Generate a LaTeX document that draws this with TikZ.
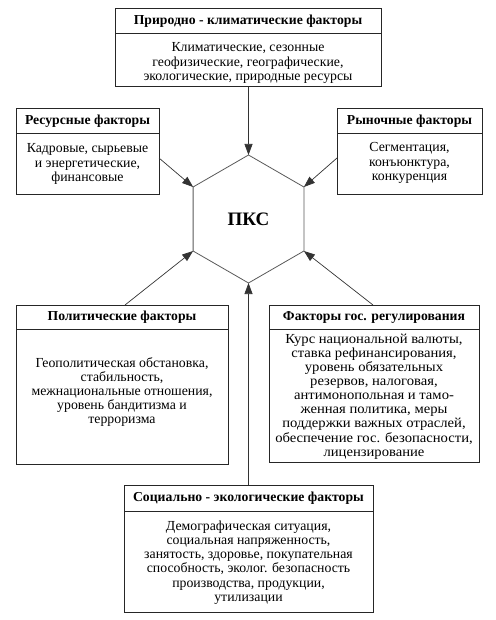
\documentclass[tikz,border=0pt]{standalone}
\usepackage{fontspec}
\setmainfont{Liberation Serif}
\newfontfamily\govfont[FakeStretch=1.06]{Liberation Serif}
\usetikzlibrary{arrows.meta}
\begin{document}
\begin{tikzpicture}[x=1pt,y=-1pt,
  frame/.style={draw=black!85, line width=1pt, inner sep=0pt, outer sep=0pt},
  ttl/.style={font=\fontsize{13.7}{14}\selectfont\bfseries, inner sep=0pt},
  bdy/.style={font=\fontsize{13.8}{14.2}\selectfont, align=center, inner sep=0pt},
  conn/.style={draw=black!80, line width=0.7pt, -{Triangle[length=11pt,width=8pt]}},
  hexline/.style={draw=black!65, line width=0.8pt},
  divider/.style={draw=black!85, line width=0.9pt}]
\useasboundingbox (0,0) rectangle (495,620);

% hexagon
\coordinate (hT) at (248.5,155);
\coordinate (hUR) at (303.9,187);
\coordinate (hLR) at (303.9,251);
\coordinate (hB) at (248.5,283);
\coordinate (hLL) at (193.1,251);
\coordinate (hUL) at (193.1,187);
\draw[hexline] (hT) -- (hUR) -- (hLR) -- (hB) -- (hLL) -- (hUL) -- cycle;
\node[font=\fontsize{19}{21}\selectfont\bfseries] (pks) at (248.5,219) {ПКС};

% top box
\node[frame, minimum width=266, minimum height=78] (top) at (248,48) {};
\draw[divider] (top.west |- 0,33) -- (top.east |- 0,33);
\node[ttl] (topT) at (248,21) {Природно - климатические факторы};
\node[bdy] (topB) at (248,63) {Климатические, сезонные\\геофизические, географические,\\экологические, природные ресурсы};

% resource box
\node[frame, minimum width=143, minimum height=86] (res) at (87.5,152) {};
\draw[divider] (res.west |- 0,133) -- (res.east |- 0,133);
\node[ttl] (resT) at (87.5,121) {Ресурсные факторы};
\node[bdy] (resB) at (87.5,164) {Кадровые, сырьевые\\и энергетические,\\финансовые};

% market box
\node[frame, minimum width=145, minimum height=86] (mkt) at (409.5,152) {};
\draw[divider] (mkt.west |- 0,133) -- (mkt.east |- 0,133);
\node[ttl] (mktT) at (409.5,121) {Рыночные факторы};
\node[bdy] (mktB) at (409.5,163) {Сегментация,\\конъюнктура,\\конкуренция};

% political box
\node[frame, minimum width=212, minimum height=159] (pol) at (122,384.5) {};
\draw[divider] (pol.west |- 0,329) -- (pol.east |- 0,329);
\node[ttl] (polT) at (122,317) {Политические факторы};
\node[bdy] (polB) at (122,392) {Геополитическая обстановка,\\стабильность,\\межнациональные отношения,\\уровень бандитизма и\\терроризма};

% government box
\node[frame, minimum width=210, minimum height=157] (gov) at (374,383.5) {};
\draw[divider] (gov.west |- 0,329) -- (gov.east |- 0,329);
\node[ttl] (govT) at (374,317) {Факторы гос. регулирования};
\node[bdy, font=\fontsize{13.8}{14.1}\govfont] (govB) at (374,396.5) {Курс национальной валюты,\\ставка рефинансирования,\\уровень обязательных\\резервов, налоговая,\\антимонопольная и тамо-\\женная политика, меры\\поддержки важных отраслей,\\обеспечение гос. безопасности,\\лицензирование};

% social box
\node[frame, minimum width=249, minimum height=127] (soc) at (248.5,548.5) {};
\draw[divider] (soc.west |- 0,511) -- (soc.east |- 0,511);
\node[ttl] (socT) at (248.5,498) {Социально - экологические факторы};
\node[bdy] (socB) at (248.5,562.5) {Демографическая ситуация,\\социальная напряженность,\\занятость, здоровье, покупательная\\способность, эколог. безопасность\\производства, продукции,\\утилизации};

% connectors
\draw[conn] (top.south -| hT) -- (hT);
\draw[conn] (soc.north -| hB) -- (hB);
\draw[conn] (res.east |- 0,158) -- (hUL);
\draw[conn] (mkt.west |- 0,158) -- (hUR);
\draw[conn] (pol.north -| 125,0) -- (hLL);
\draw[conn] (gov.north -| 373,0) -- (hLR);
\end{tikzpicture}
\end{document}
